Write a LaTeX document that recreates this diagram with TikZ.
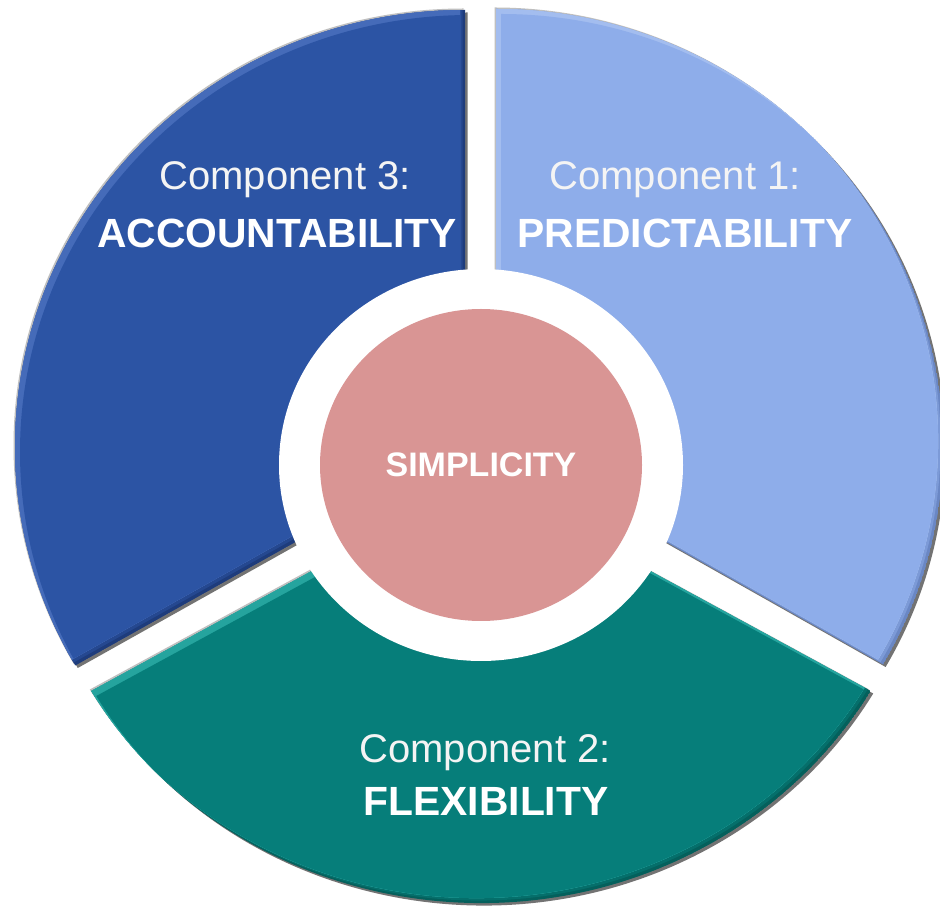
\documentclass[tikz,border=0pt]{standalone}
\usepackage{fontspec}
\setmainfont{Liberation Sans}
\usetikzlibrary{shapes.geometric}

\definecolor{acctbase}{HTML}{2C54A4}
\definecolor{acctlight}{HTML}{5E82CE}
\definecolor{acctdark}{HTML}{1E3C7C}
\definecolor{predbase}{HTML}{8EADEA}
\definecolor{predlight}{HTML}{B8CDF4}
\definecolor{preddark}{HTML}{6A87C4}
\definecolor{flexbase}{HTML}{067E7A}
\definecolor{flexlight}{HTML}{45C9C2}
\definecolor{flexdark}{HTML}{04605C}
\definecolor{corefill}{HTML}{D99594}
\definecolor{labeltext}{HTML}{F4F4F4}

% one ring segment: centre (\scx,\scy), angles \sa..\sb, radii \srx,\sry
\newcommand\ringpart[1]{\path[#1] (\scx,\scy) -- ++(\sa:{\srx} and {\sry})
  arc[start angle=\sa, end angle=\sb, x radius=\srx, y radius=\sry] -- cycle;}

% segment with drop shadow, rim and a two-step bevel
% #1 cx, #2 cy, #3 start, #4 end, #5 rx, #6 ry, #7 base, #8 light, #9 dark
\newcommand\bevelpart[9]{%
  \def\scx{#1}\def\scy{#2}\def\sa{#3}\def\sb{#4}\def\srx{#5}\def\sry{#6}%
  \begin{scope}[shift={(2.5,-2.5)}]\ringpart{fill=black!55}\end{scope}
  \begin{scope}[shift={(-1.5,1.5)}]\ringpart{fill=black!25}\end{scope}
  \begin{scope}
    \ringpart{clip}
    \ringpart{fill=#9}
    \begin{scope}[shift={(-2.5,2.5)}]\ringpart{fill=#9!50!#7}\end{scope}
    \begin{scope}[shift={(-5,5)}]
      \ringpart{fill=#8}
      \ringpart{clip}
      \begin{scope}[shift={(2.5,-2.5)}]\ringpart{fill=#8!50!#7}\end{scope}
      \begin{scope}[shift={(5,-5)}]
        \ringpart{clip}
        \begin{scope}[shift={(5,-5)}]\ringpart{fill=#7}\end{scope}
      \end{scope}
    \end{scope}
  \end{scope}}

\begin{document}
\begin{tikzpicture}[x=1pt, y=1pt,
  comp/.style={text=labeltext, inner sep=0pt, anchor=base,
    font=\fontsize{40}{48}\selectfont},
  title/.style={text=white, inner sep=0pt, anchor=base,
    font=\fontsize{40.8}{48}\selectfont\bfseries},
  core/.style={ellipse, fill=corefill, text=white, inner sep=0pt,
    minimum width=322pt, minimum height=312pt,
    font=\fontsize{34}{40}\selectfont\bfseries}]

  \useasboundingbox (0,0) rectangle (940,911);
  \fill[white] (0,0) rectangle (940,911);

  % the three ring segments
  \bevelpart{465}{464}{90}{210}{450}{437}{acctbase}{acctlight}{acctdark}
  \bevelpart{496}{465}{-30}{90}{447}{437}{predbase}{predlight}{preddark}
  \bevelpart{481}{432}{210}{330}{450}{424}{flexbase}{flexlight}{flexdark}

  % central hole and core
  \fill[white] (481,446) ellipse [x radius=202, y radius=196];
  \node[core] (core) at (481,446) {SIMPLICITY};

  % segment labels
  \node[comp]  (c3) at (285,721) {Component 3:};
  \node[title] (t3) at (277,663) {ACCOUNTABILITY};
  \node[comp]  (c1) at (675,721) {Component 1:};
  \node[title] (t1) at (685,663) {PREDICTABILITY};
  \node[comp]  (c2) at (485,149) {Component 2:};
  \node[title] (t2) at (486,96)  {FLEXIBILITY};
\end{tikzpicture}
\end{document}
